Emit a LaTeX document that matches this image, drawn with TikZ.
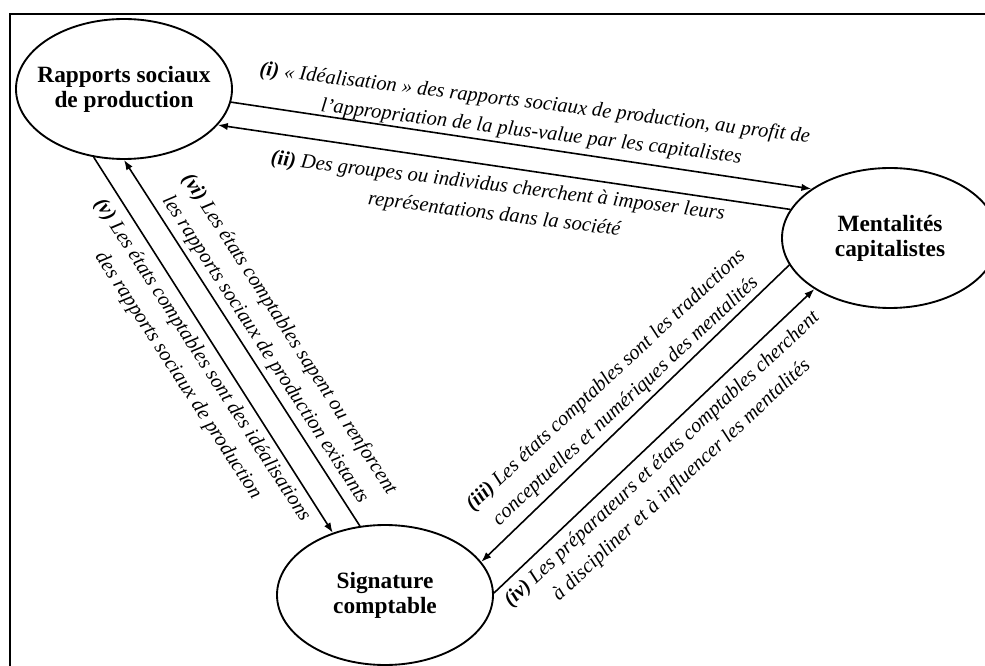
\documentclass[tikz,border=0pt]{standalone}
\usepackage{fontspec}
\setmainfont{Liberation Serif}
\usetikzlibrary{arrows.meta, shapes.geometric}

\begin{document}
\begin{tikzpicture}[x=0.75pt, y=-0.75pt, >={Latex[length=7.5pt,width=5.5pt]},
	pole/.style={ellipse, draw, line width=1.4pt, minimum width=162pt, minimum height=105pt, inner sep=0pt},
	titre/.style={align=center, inner sep=0pt, font=\fontsize{17.5}{18.75}\selectfont\bfseries},
	lien/.style={->, line width=1.2pt},
	legende/.style={align=center, inner sep=0pt, font=\fontsize{15.4}{21.5}\selectfont\itshape}]
	
	% 1. Frame (only top and left edges show)
	\useasboundingbox (0,0) rectangle (985,666);
	\draw[line width=2pt] (10,666) -- (10,14) -- (985,14);
	
	% 2. The three poles
	\node[pole, label={[titre]center:Rapports sociaux\\de production}] (rap) at (124,89) {};
	\node[pole, label={[titre]center:Mentalités\\capitalistes}] (men) at (890,238) {};
	\node[pole, label={[titre]center:Signature\\comptable}] (sig) at (385,595) {};
	
	% 3. Arrows between the poles
	\draw[lien] (rap.-7) -- (men.148);
	\draw[lien] (men.164) -- (rap.-21);
	\draw[lien] (men.195) -- (sig.19);
	\draw[lien] (sig.1) -- (men.214);
	\draw[lien] (rap.-114) -- (sig.130);
	\draw[lien] (sig.110) -- (rap.-90);
	
	% 4. Labels of the arrows
	\node[legende, rotate=-7] (ti) at (533,118)
	{\textbf{(i)} «~Idéalisation~» des rapports sociaux de production, au profit de\\
		l’appropriation de la plus-value par les capitalistes};
	\node[legende, rotate=-7] (tii) at (496,201)
	{\textbf{(ii)} Des groupes ou individus cherchent à imposer leurs\\
		représentations dans la société};
	\node[legende, rotate=43] (tiii) at (616,391)
	{\textbf{(iii)} Les états comptables sont les traductions\\
		conceptuelles et numériques des mentalités};
	\node[legende, rotate=43] (tiv) at (672,470)
	{\textbf{(iv)} Les préparateurs et états comptables cherchent\\
		à discipliner et à influencer les mentalités};
	\node[legende, rotate=-57] (tv) at (190,368)
	{\textbf{(v)} Les états comptables sont des idéalisations\\
		des rapports sociaux de production};
	\node[legende, rotate=-57] (tvi) at (277,342)
	{\textbf{(vi)} Les états comptables sapent ou renforcent\\
		les rapports sociaux de production existants};
	
\end{tikzpicture}
\end{document}
